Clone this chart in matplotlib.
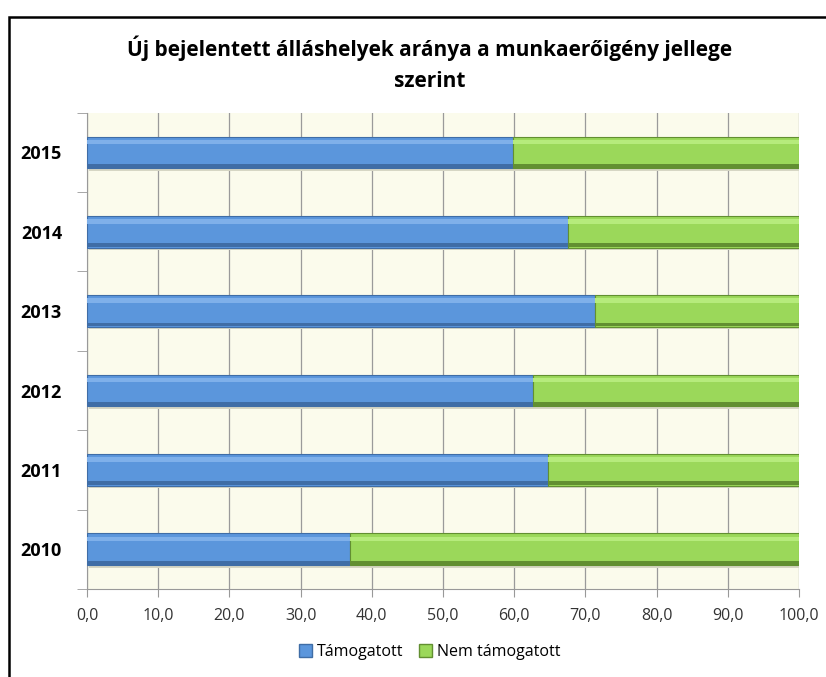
import matplotlib
matplotlib.use("Agg")
import matplotlib.pyplot as plt
from matplotlib.patches import Patch, Rectangle

# adatok
evek = ['2010', '2011', '2012', '2013', '2014', '2015']
tamogatott = [36.9, 64.7, 62.7, 71.4, 67.6, 59.8]
nem_tamogatott = [100 - v for v in tamogatott]
xticks = [0, 10, 20, 30, 40, 50, 60, 70, 80, 90, 100]

kek, kek_sotet, kek_vilagos = '#5B96DC', '#3F6DA6', '#7FB0EA'
zold, zold_sotet, zold_vilagos = '#9BD85A', '#628F31', '#B6EB7C'

plt.rcParams['font.family'] = ['Open Sans', 'DejaVu Sans']

fig = plt.figure(figsize=(8.26, 6.77), dpi=100)
ax = fig.add_axes([0.1053, 0.13, 0.862, 0.7035])
ax.set_facecolor('#FBFBEC')

y = list(range(len(evek)))
h = 0.40

# shadow
ax.barh([v - 0.03 for v in y], 100, height=h, left=0.3, color='#D6D6C4', zorder=2)
ax.barh(y, tamogatott, height=h, color=kek, edgecolor=kek_sotet, linewidth=0.8, zorder=3)
ax.barh(y, nem_tamogatott, left=tamogatott, height=h, color=zold, edgecolor=zold_sotet, linewidth=0.8, zorder=3)
# bevel highlight / dark strip
ax.barh([v + h * 0.33 for v in y], tamogatott, height=h * 0.14, color=kek_vilagos, linewidth=0, zorder=4)
ax.barh([v + h * 0.33 for v in y], nem_tamogatott, left=tamogatott, height=h * 0.14, color=zold_vilagos, linewidth=0, zorder=4)
ax.barh([v - h * 0.42 for v in y], tamogatott, height=h * 0.12, color=kek_sotet, linewidth=0, zorder=4)
ax.barh([v - h * 0.42 for v in y], nem_tamogatott, left=tamogatott, height=h * 0.12, color=zold_sotet, linewidth=0, zorder=4)

ax.set_xlim(0, 100)
ax.set_ylim(-0.5, len(evek) - 0.5)
ax.set_xticks(xticks)
ax.set_xticklabels([f'{v:.1f}'.replace('.', ',') for v in xticks], fontsize=11.5, color='#333333')
ax.set_yticks(y)
ax.set_yticklabels(evek, fontsize=13, fontweight='bold')
ax.set_yticks([v - 0.5 for v in y] + [len(evek) - 0.5], minor=True)
ax.tick_params(axis='y', which='major', length=0, pad=18)
ax.tick_params(axis='y', which='minor', length=7, color='#999999')
ax.tick_params(axis='x', length=6, color='#999999', pad=8)
ax.grid(axis='x', color='#9A9A9A', linewidth=0.9, zorder=1)
ax.set_axisbelow(True)
for s in ['top', 'right']:
    ax.spines[s].set_visible(False)
ax.spines['left'].set_color('#999999')
ax.spines['bottom'].set_color('#999999')

fig.text(0.52, 0.906, 'Új bejelentett álláshelyek aránya a munkaerőigény jellege\nszerint',
         ha='center', va='center', fontsize=15, fontweight='bold', linespacing=1.65)

fig.legend(handles=[Patch(facecolor=kek, edgecolor=kek_sotet, label='Támogatott'),
                    Patch(facecolor=zold, edgecolor=zold_sotet, label='Nem támogatott')],
           loc='center', bbox_to_anchor=(0.52, 0.037), ncol=2, frameon=False,
           fontsize=11.5, handlelength=0.8, handleheight=0.8, handletextpad=0.3, columnspacing=1.0)

# outer frame
fig.add_artist(Rectangle((9 / 826, -0.1), 1.2, 1.1 - 17 / 677, transform=fig.transFigure,
                         fill=False, edgecolor='black', linewidth=1.8))

fig.savefig('out.png', dpi=100, facecolor='white')
